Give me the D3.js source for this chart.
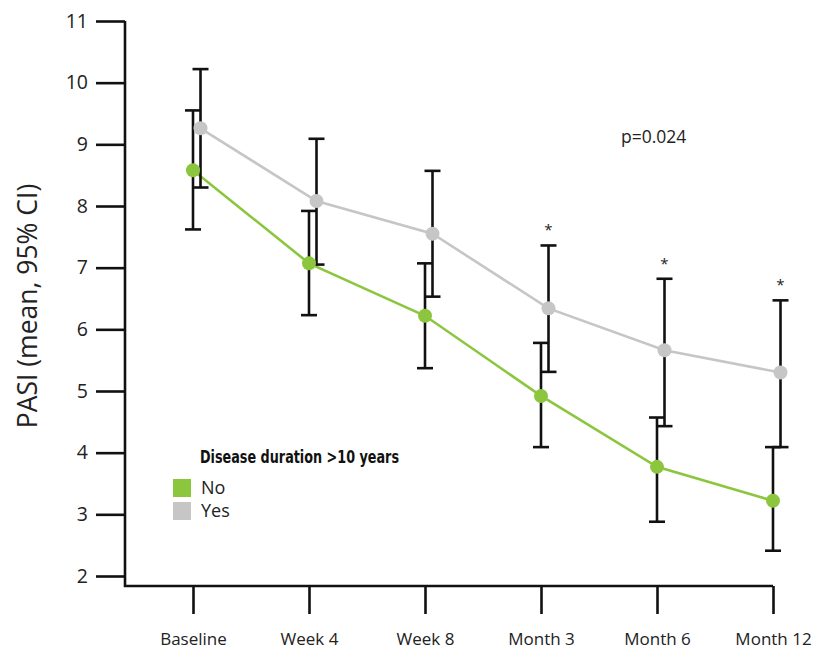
<!DOCTYPE html>
<html><head><meta charset="utf-8">
<script src="https://cdn.jsdelivr.net/npm/d3@7"></script>
<style>
body{margin:0;background:#fff;}
svg{display:block;font-family:"Open Sans",sans-serif;}
</style></head>
<body><svg id="c" width="814" height="650"></svg>
<script>
const categories = ["Baseline","Week 4","Week 8","Month 3","Month 6","Month 12"];
const noMean  = [8.58, 7.07, 6.22, 4.92, 3.77, 3.22];
const noLow   = [7.62, 6.23, 5.37, 4.09, 2.88, 2.41];
const noHigh  = [9.55, 7.92, 7.07, 5.78, 4.57, 4.09];
const yesMean = [9.26, 8.08, 7.55, 6.34, 5.66, 5.30];
const yesLow  = [8.30, 7.05, 6.53, 5.31, 4.43, 4.09];
const yesHigh = [10.22, 9.09, 8.57, 7.36, 6.82, 6.47];
const significant = [false, false, false, true, true, true];
const yTicks = [2,3,4,5,6,7,8,9,10,11];
const legendTitle = "Disease duration >10 years";
const seriesNames = ["No","Yes"];
const pText = "p=0.024";
const yLabel = "PASI (mean, 95% CI)";

const GREEN = "#8cc63f", GRAY = "#c6c6c6";
const svg = d3.select("#c");
const y = d3.scaleLinear().domain([2,11]).range([576,21]);
const x = d3.scalePoint().domain(categories).range([193,773]);
const axisX = 125, axisY = 586;
const off = 7.5;

// y axis
const ya = svg.append("g").attr("transform",`translate(${axisX},0)`)
  .call(d3.axisLeft(y).tickValues(yTicks).tickSize(29).tickSizeOuter(0).tickPadding(8).tickFormat(d3.format("d")));
ya.select(".domain").remove();
ya.selectAll("line").attr("stroke","#111").attr("stroke-width",2.6);
ya.selectAll("text").attr("font-size",19.5).attr("fill","#222").attr("font-family","Open Sans, sans-serif");

// x axis
const xa = svg.append("g").attr("transform",`translate(0,${axisY})`)
  .call(d3.axisBottom(x).tickSize(28).tickSizeOuter(0));
xa.select(".domain").remove();
xa.selectAll("line").attr("stroke","#111").attr("stroke-width",2.6);
xa.selectAll("text").attr("font-size",17).attr("fill","#222").attr("y",59).attr("dy",0).attr("font-family","Open Sans, sans-serif");

// axis lines
svg.append("path").attr("d",`M${axisX},${y(11)}V${axisY}H${x(categories[categories.length-1])}`)
  .attr("fill","none").attr("stroke","#111").attr("stroke-width",2.6);

// y label
svg.append("text").attr("transform",`translate(37,306) rotate(-90)`)
  .attr("text-anchor","middle").attr("font-size",26.5).attr("fill","#222").text(yLabel);

const series = [
  {mean:noMean, low:noLow, high:noHigh, color:GREEN, dx:0},
  {mean:yesMean, low:yesLow, high:yesHigh, color:GRAY, dx:off}
];
const line = d3.line();
// lines
series.forEach(s=>{
  svg.append("path")
    .attr("d", line(categories.map((c,i)=>[x(c)+s.dx, y(s.mean[i])])))
    .attr("fill","none").attr("stroke",s.color).attr("stroke-width",2.6);
});
// error bars
series.forEach(s=>{
  const g = svg.append("g").attr("stroke","#111").attr("stroke-width",2.6).attr("fill","none");
  categories.forEach((c,i)=>{
    const cx = x(c)+s.dx;
    g.append("line").attr("x1",cx).attr("x2",cx).attr("y1",y(s.low[i])).attr("y2",y(s.high[i]));
    g.append("line").attr("x1",cx-8).attr("x2",cx+8).attr("y1",y(s.low[i])).attr("y2",y(s.low[i]));
    g.append("line").attr("x1",cx-8).attr("x2",cx+8).attr("y1",y(s.high[i])).attr("y2",y(s.high[i]));
  });
});
// points
series.forEach(s=>{
  svg.append("g").selectAll("circle").data(categories).join("circle")
    .attr("cx",(c)=>x(c)+s.dx).attr("cy",(c,i)=>y(s.mean[i])).attr("r",7).attr("fill",s.color);
});
// stars
categories.forEach((c,i)=>{
  if(significant[i]) svg.append("text").attr("x",x(c)+off).attr("y",y(yesHigh[i])-10)
    .attr("text-anchor","middle").attr("font-size",15).attr("fill","#222").text("*");
});
// p text
svg.append("text").attr("x",621).attr("y",143).attr("font-size",17.5).attr("fill","#222").text(pText);

// legend
svg.append("text").attr("x",200).attr("y",463).attr("font-size",17).attr("font-weight","bold")
  .attr("font-family","'Liberation Sans Narrow','DejaVu Sans Condensed','Roboto',sans-serif")
  .attr("textLength",199).attr("lengthAdjust","spacingAndGlyphs").attr("fill","#111").text(legendTitle);
[GREEN, GRAY].forEach((col,i)=>{
  svg.append("rect").attr("x",173).attr("y",479+i*23).attr("width",18).attr("height",18).attr("fill",col);
  svg.append("text").attr("x",201).attr("y",494+i*23).attr("font-size",18).attr("fill","#222").text(seriesNames[i]);
});
</script></body></html>
